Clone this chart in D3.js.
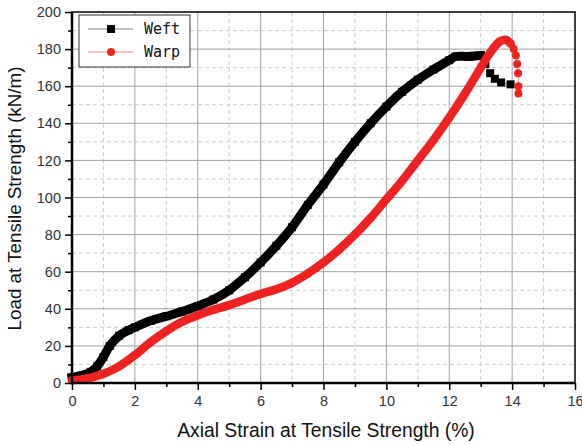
<!DOCTYPE html>
<html>
<head>
<meta charset="UTF-8">
<title>Load vs Axial Strain</title>
<script src="https://cdn.jsdelivr.net/npm/d3@7"></script>
<style>
  body { margin: 0; background: #fff; }
</style>
</head>
<body>
<svg id="chart" width="582" height="445" font-family="Liberation Sans, Arial, sans-serif"></svg>
<script>
// values
var weftStrain = [0, 0.3, 0.6, 0.8, 1.0, 1.2, 1.5, 1.8, 2.0, 2.5, 3.0, 3.5, 4.0, 4.5, 5.0, 5.5, 6.0, 6.5, 7.0, 7.5, 8.0, 8.5, 9.0, 9.5, 10.0, 10.5, 11.0, 11.5, 12.0, 12.2, 12.6, 13.0, 13.15, 13.3, 13.45, 13.65, 13.95];
var weftLoad   = [3, 4, 6, 9, 14, 20, 25.5, 28.5, 30, 33.5, 36, 38.5, 41.5, 45, 50, 57, 65, 74, 84, 96, 107, 119, 130, 140, 149, 157, 163.5, 169, 174, 176, 176, 176.5, 172, 167, 164, 162, 161];

var warpStrain = [0, 0.5, 1.0, 1.5, 2.0, 2.5, 3.0, 3.5, 4.0, 4.5, 5.0, 6.0, 6.5, 7.0, 7.5, 8.0, 8.5, 9.0, 9.5, 10.0, 10.5, 11.0, 11.5, 12.0, 12.5, 13.0, 13.3, 13.6, 13.8, 13.95, 14.05, 14.12, 14.16, 14.19, 14.2, 14.2];
var warpLoad   = [1.5, 2.5, 5, 9, 15, 22, 28, 33, 36.5, 39.5, 42, 48, 50.5, 54, 59, 65, 72, 80, 89, 99, 109, 120, 131, 143, 156, 170, 178, 184, 185, 183, 180, 176.5, 172, 167, 160, 156];

var xTicks = [0, 2, 4, 6, 8, 10, 12, 14, 16];
var yTicks = [0, 20, 40, 60, 80, 100, 120, 140, 160, 180, 200];
var seriesNames = ["Weft", "Warp"];
var seriesColors = ["#000000", "#ee2222"];

var svg = d3.select("#chart");
var m = {left: 72, top: 12, right: 7, bottom: 62};
var w = 582 - m.left - m.right, h = 445 - m.top - m.bottom;

var x = d3.scaleLinear().domain([0, 16]).range([0, w]);
var y = d3.scaleLinear().domain([0, 200]).range([h, 0]);

var g = svg.append("g").attr("transform", "translate(" + m.left + "," + m.top + ")");

// minor grid (dashed)
var xMinor = d3.range(1, 16, 2), yMinor = d3.range(10, 200, 20);
g.selectAll(".xminor").data(xMinor).enter().append("line")
    .attr("x1", function(d){ return x(d); }).attr("x2", function(d){ return x(d); })
    .attr("y1", 0).attr("y2", h)
    .attr("stroke", "#cccccc").attr("stroke-dasharray", "4,3");
g.selectAll(".yminor").data(yMinor).enter().append("line")
    .attr("y1", function(d){ return y(d); }).attr("y2", function(d){ return y(d); })
    .attr("x1", 0).attr("x2", w)
    .attr("stroke", "#cccccc").attr("stroke-dasharray", "4,3");
// major grid
g.selectAll(".xmajor").data(xTicks.slice(1, -1)).enter().append("line")
    .attr("x1", function(d){ return x(d); }).attr("x2", function(d){ return x(d); })
    .attr("y1", 0).attr("y2", h)
    .attr("stroke", "#a0a0a0");
g.selectAll(".ymajor").data(yTicks.slice(1, -1)).enter().append("line")
    .attr("y1", function(d){ return y(d); }).attr("y2", function(d){ return y(d); })
    .attr("x1", 0).attr("x2", w)
    .attr("stroke", "#a0a0a0");

// curves
var weft = weftStrain.map(function(v, i){ return [v, weftLoad[i]]; });
var warp = warpStrain.map(function(v, i){ return [v, warpLoad[i]]; });
var line = d3.line().x(function(d){ return x(d[0]); }).y(function(d){ return y(d[1]); }).curve(d3.curveCatmullRom);

g.append("path").datum(weft).attr("d", line)
    .attr("fill", "none").attr("stroke", seriesColors[0]).attr("stroke-width", 1).attr("stroke-opacity", 0.6);
g.selectAll(".wf").data(weft).enter().append("path")
    .attr("transform", function(d){ return "translate(" + x(d[0]) + "," + y(d[1]) + ")"; })
    .attr("d", d3.symbol().type(d3.symbolSquare).size(64))
    .attr("fill", seriesColors[0]);
g.append("path").datum(weft.slice(0, 32)).attr("d", line)
    .attr("fill", "none").attr("stroke", seriesColors[0]).attr("stroke-width", 9)
    .attr("stroke-linecap", "square");

g.append("path").datum(warp).attr("d", line)
    .attr("fill", "none").attr("stroke", seriesColors[1]).attr("stroke-width", 1).attr("stroke-opacity", 0.5);
g.selectAll(".wp").data(warp).enter().append("circle")
    .attr("cx", function(d){ return x(d[0]); }).attr("cy", function(d){ return y(d[1]); })
    .attr("r", 4).attr("fill", seriesColors[1]);
g.append("path").datum(warp.slice(0, 30)).attr("d", line)
    .attr("fill", "none").attr("stroke", seriesColors[1]).attr("stroke-width", 8.5)
    .attr("stroke-linecap", "round");

// axes
var xAxis = g.append("g").attr("transform", "translate(0," + h + ")")
    .call(d3.axisBottom(x).tickValues(xTicks).tickSize(7).tickPadding(6));
var yAxis = g.append("g")
    .call(d3.axisLeft(y).tickValues(yTicks).tickSize(7).tickPadding(4));
[xAxis, yAxis].forEach(function(a){
    a.select(".domain").remove();
    a.selectAll("line").attr("stroke", "#000").attr("stroke-width", 1.5);
    a.selectAll("text").attr("font-size", 14.5).attr("fill", "#333")
        .attr("font-family", "Liberation Sans, Arial, sans-serif");
});
g.append("g").attr("transform", "translate(0," + h + ")")
    .call(d3.axisBottom(x).tickValues(xMinor).tickSize(4).tickFormat(""))
    .call(function(s){ s.select(".domain").remove(); s.selectAll("line").attr("stroke", "#000").attr("stroke-width", 1.5); });
g.append("g")
    .call(d3.axisLeft(y).tickValues(yMinor).tickSize(4).tickFormat(""))
    .call(function(s){ s.select(".domain").remove(); s.selectAll("line").attr("stroke", "#000").attr("stroke-width", 1.5); });

// frame
g.append("rect").attr("x", 0).attr("y", 0).attr("width", w).attr("height", h)
    .attr("fill", "none").attr("stroke", "#000").attr("stroke-width", 1.5);
g.append("line").attr("x1", 0).attr("x2", w).attr("y1", h).attr("y2", h).attr("stroke", "#000").attr("stroke-width", 2.5);
g.append("line").attr("x1", 0).attr("x2", 0).attr("y1", 0).attr("y2", h).attr("stroke", "#000").attr("stroke-width", 2.5);

// axis titles
svg.append("text").attr("x", 326).attr("y", 437).attr("text-anchor", "middle")
    .attr("font-size", 19.3).attr("fill", "#111").text("Axial Strain at Tensile Strength (%)");
svg.append("text").attr("transform", "translate(21," + (m.top + h / 2 + 1) + ") rotate(-90)")
    .attr("text-anchor", "middle").attr("font-size", 18.8).attr("fill", "#111")
    .text("Load at Tensile Strength (kN/m)");

// legend
var lg = svg.append("g").attr("transform", "translate(79,15)");
lg.append("rect").attr("width", 111).attr("height", 52).attr("fill", "#fff")
    .attr("stroke", "#333").attr("stroke-width", 1);
seriesNames.forEach(function(name, i){
    var yy = 14 + i * 23;
    lg.append("line").attr("x1", 9).attr("x2", 54).attr("y1", yy).attr("y2", yy)
        .attr("stroke", i === 0 ? "#888" : "#f08080").attr("stroke-width", 1.2);
    if (i === 0) {
        lg.append("rect").attr("x", 28).attr("y", yy - 4).attr("width", 8).attr("height", 8).attr("fill", seriesColors[0]);
    } else {
        lg.append("circle").attr("cx", 32).attr("cy", yy).attr("r", 4).attr("fill", seriesColors[1]);
    }
    lg.append("text").attr("x", 65).attr("y", yy + 5).attr("font-size", 15)
        .attr("font-family", "DejaVu Sans Mono, monospace").attr("fill", "#111").text(name);
});
</script>
</body>
</html>
